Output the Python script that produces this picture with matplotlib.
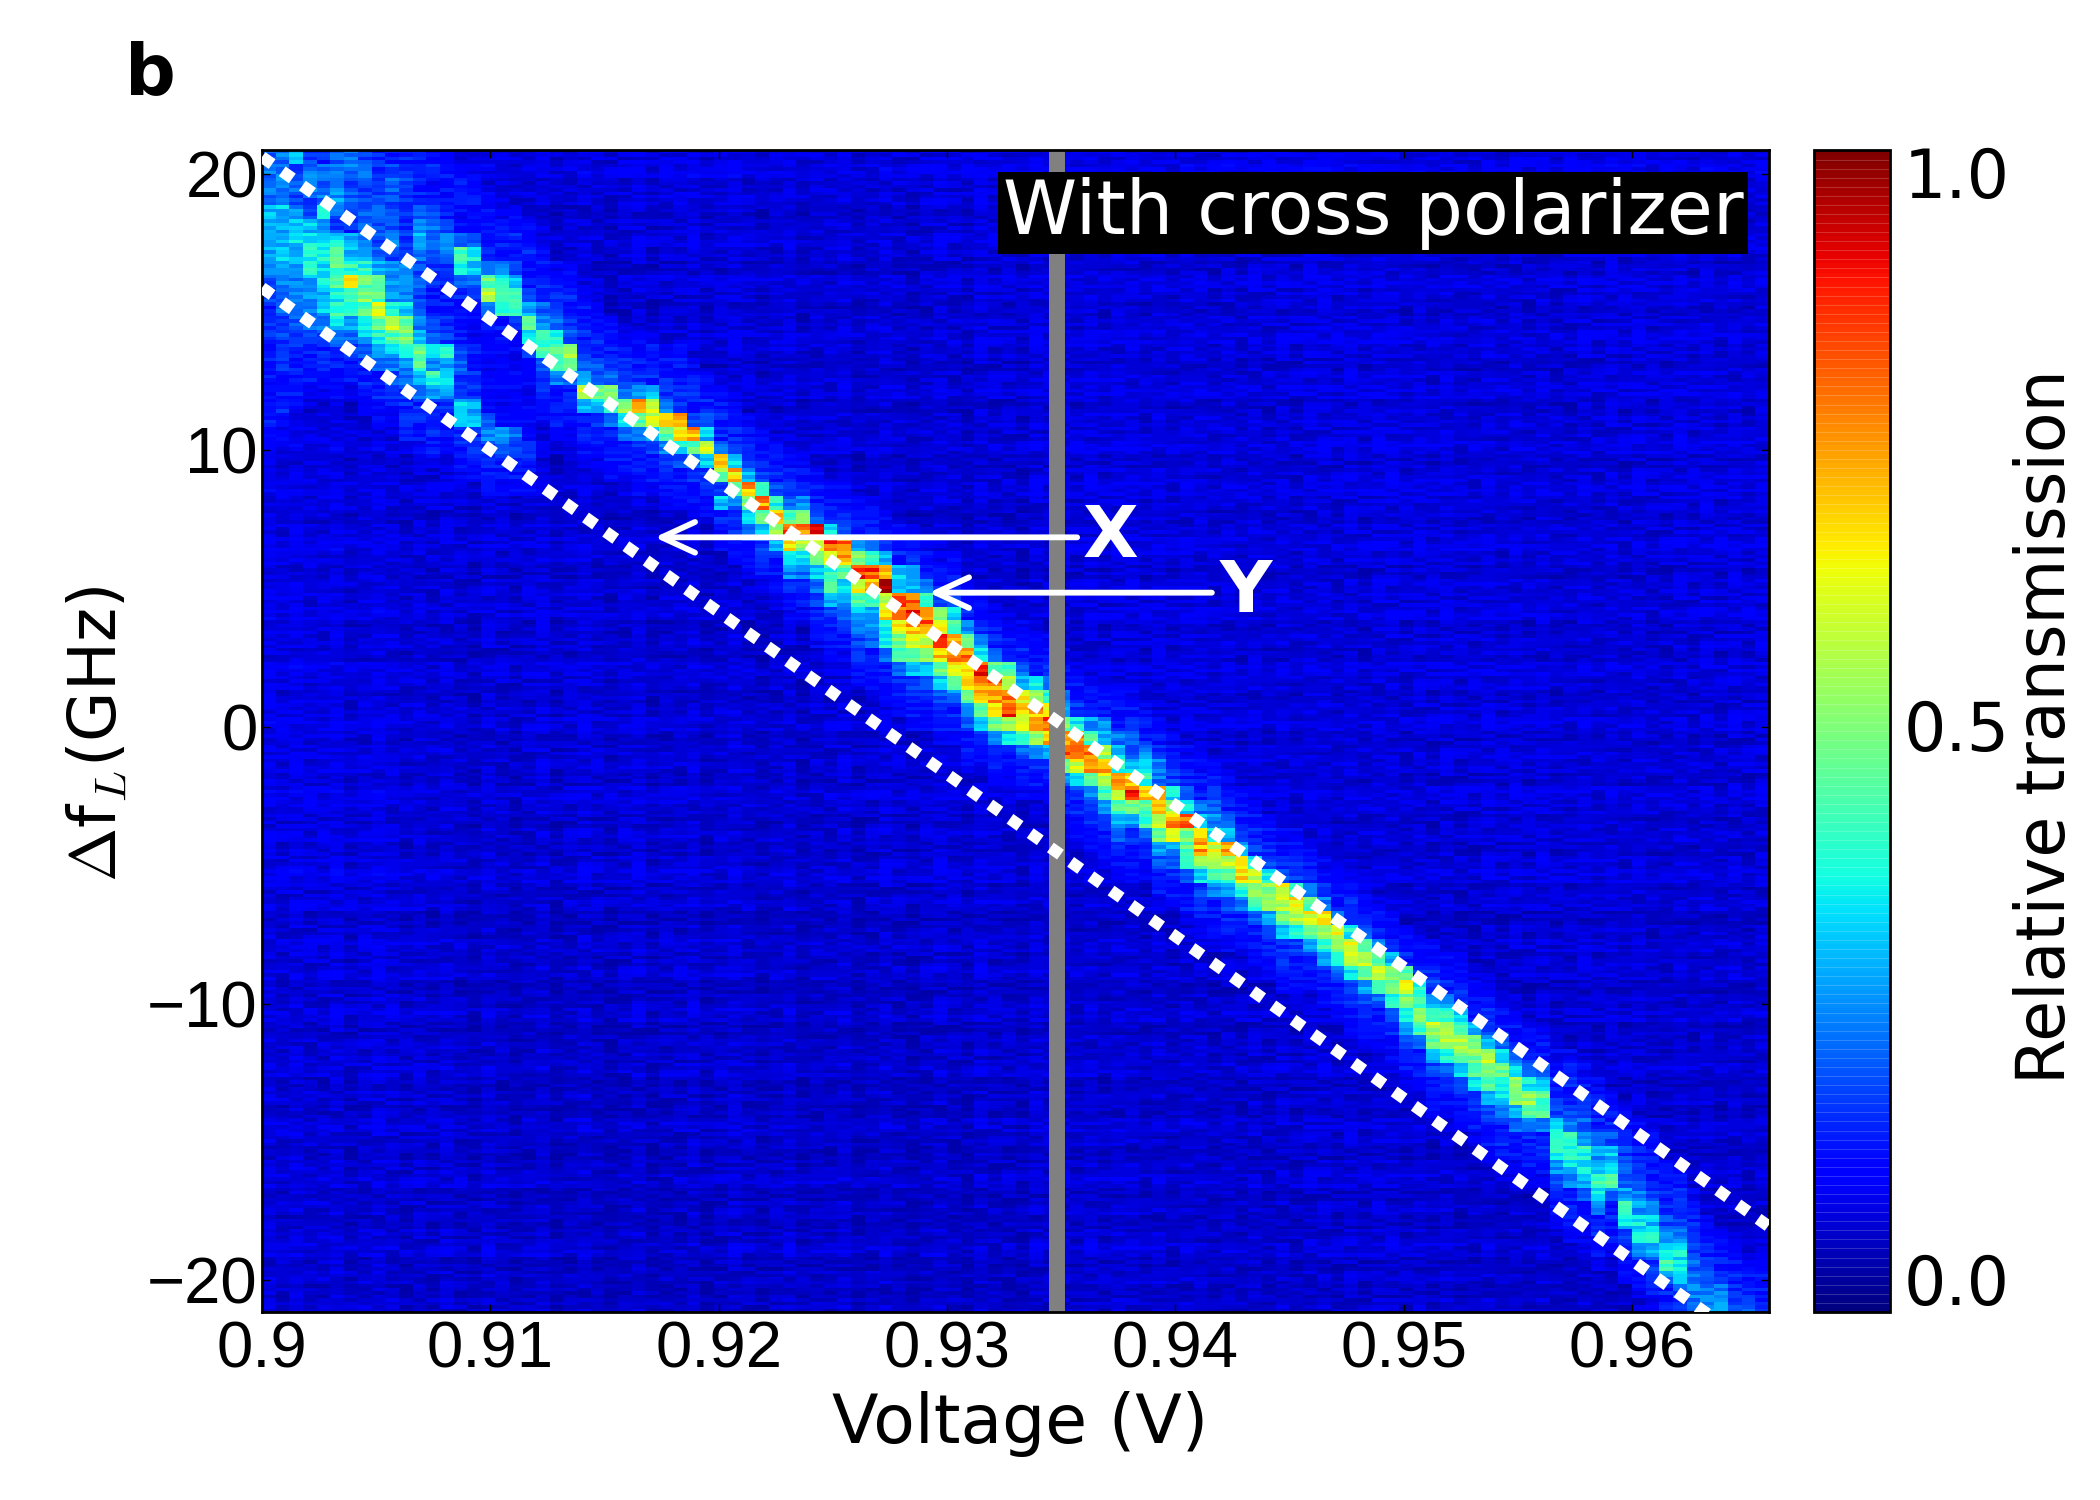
import matplotlib
matplotlib.use("Agg")
import matplotlib.pyplot as plt
import numpy as np

plt.rcParams["mathtext.fontset"] = "cm"

# Scan grid: 110 voltage steps, 84 detuning steps (top row first), each detuning step holds 4 sweeps
VOLT_MIN, VOLT_MAX = 0.9, 0.966
FREQ_TOP, FREQ_BOTTOM = 20.85, -21.15
N_COLS, N_ROWS, SWEEPS = 110, 84, 4

# Dark-level transmission, percent, per detuning row and per voltage column
row_level = [6, 7, 5, 6, 4, 5, 6, 5, 4, 6, 5, 4, 5, 6, 5, 4, 5, 6, 4, 5, 5, 6, 4, 5, 6, 5, 4, 5, 6, 5,
             4, 5, 5, 6, 4, 5, 4, 6, 5, 4, 5, 6, 4, 5, 5, 4, 6, 5, 4, 5, 4, 5, 6, 4, 5, 3, 4, 5, 4, 5,
             3, 4, 5, 3, 4, 4, 5, 3, 4, 3, 5, 4, 3, 4, 5, 3, 4, 3, 4, 5, 3, 4, 3, 4]
col_offset = [2, 1, 2, 1, 1, 2, 0, 1, 2, 1, 0, 1, 0, 1, 0, -1, 1, 0, -1, 0, 1, -1, 0, 1, 0, -1, 0, 1, -1, 0,
              0, 1, -1, 0, 1, 0, -1, 0, 1, -1, 0, 0, 1, -1, 0, 1, 0, -1, 0, 1, 0, -1, 1, 0, 0, -1, 1, 0, 1, 0,
              1, 0, 1, 1, 0, 1, 0, 1, 1, 0, 1, 0, 1, 0, 1, 0, 1, 1, 0, 1, 0, 1, 1, 0, 1, 0, 1, 0, 0, 1,
              0, 1, 0, 1, 0, 0, 1, 0, 1, 0, 1, 0, 0, 1, 0, 1, 0, 1, 0, 1]

# Sweep-to-sweep scatter of the detector, percent
sweep_scatter = [
    [1, -2, 3, 0, -1, 2, -3, 1, 0, 3, -2, -1, 2, 0, -3, 1, 2],
    [-2, 1, -1, 3, 0, -3, 2, 0, -2, 1, 3, -1, 0, -2, 2, 3, -1],
    [3, 0, -3, 1, 2, -1, 0, -2, 3, -1, 0, 2, -3, 1, -1, 0, 2],
    [0, -1, 2, -2, 3, 1, -1, 3, 1, -3, 2, 0, 1, 3, -2, -1, -3],
    [-3, 2, 0, 1, -2, 0, 3, -1, -2, 2, -1, 3, -1, 0, 1, 2, 0],
    [2, 3, -1, -3, 0, 2, 1, -2, 0, 1, -3, 0, 3, -1, 2, -2, 1],
    [-1, 0, 1, 2, -3, 3, -2, 0, 2, -1, 1, -2, 0, 3, 0, 1, -3],
    [1, -3, 2, 0, 1, -1, 0, 3, -3, 0, 2, 1, -2, -1, 3, 0, 2],
    [0, 2, -2, 3, -1, 1, -3, 1, 2, -2, 0, 3, 1, 0, -1, -3, 1],
    [3, -1, 0, -2, 2, 0, 1, -3, 0, 3, -1, -2, 2, 1, -2, 3, -1],
    [-2, 1, 3, 0, -1, -3, 2, 0, 1, -1, 3, 0, -3, 2, 0, 1, -2],
    [1, 0, -3, 2, 1, 3, -1, 2, -2, 0, -3, 1, 3, -2, 1, -1, 0],
    [-1, 3, 1, -2, 0, -2, 0, -1, 3, 2, 1, -3, 0, 2, -1, -2, 3],
]

# Transmission band, percent: first detuning row of each voltage column and the cells from there on
band_start = [0, 0, 0, 0, 0, 0, 0, 0, 0, 0, 0, 0, 2, 3, 4, 4, 6, 7, 7, 8,
              10, 11, 11, 13, 14, 15, 16, 16, 16, 17, 17, 18, 19, 20, 21, 22, 23, 24, 25, 25,
              26, 27, 27, 28, 28, 29, 30, 30, 31, 32, 32, 34, 35, 36, 37, 37, 38, 38, 39, 40,
              41, 41, 42, 42, 43, 44, 45, 46, 47, 47, 48, 49, 50, 51, 52, 52, 53, 54, 55, 55,
              56, 57, 58, 59, 60, 60, 61, 61, 63, 63, 64, 65, 66, 66, 68, 68, 69, 70, 71, 72,
              73, 74, 76, 76, 78, 80, 81, 82, 83, 83]
band_cells = [
    [20, 22, 24, 22, 30, 26, 28, 28, 26, 18, 16, 14, 14, 14, 12, 12, 11, 11, 10],
    [22, 22, 24, 22, 30, 28, 30, 30, 26, 24, 20, 20, 16, 16, 16, 14, 12, 11],
    [28, 18, 20, 18, 24, 32, 32, 30, 28, 24, 22, 22, 20, 16, 14, 12],
    [16, 22, 22, 18, 18, 30, 34, 38, 40, 28, 26, 24, 20, 16, 13],
    [14, 20, 20, 22, 34, 22, 36, 36, 34, 34, 30, 30, 24, 18, 14],
    [20, 22, 22, 26, 20, 16, 34, 42, 44, 46, 36, 40, 34, 22, 16],
    [22, 22, 16, 20, 16, 14, 26, 30, 40, 62, 38, 42, 26, 22, 16],
    [16, 20, 16, 16, 20, 20, 22, 26, 38, 46, 50, 44, 32, 30, 20, 14],
    [14, 15, 14, 16, 18, 18, 18, 20, 28, 44, 44, 58, 48, 38, 24, 18, 14],
    [12, 16, 20, 18, 18, 18, 22, 16, 24, 26, 26, 36, 56, 44, 30, 22, 18],
    [14, 14, 16, 14, 14, 14, 16, 14, 22, 22, 24, 32, 46, 50, 36, 24, 20, 16, 14],
    [12, 12, 12, 14, 18, 24, 28, 22, 18, 20, 16, 16, 22, 28, 48, 44, 28, 20, 14],
    [9, 12, 16, 22, 20, 18, 14, 14, 12, 12, 16, 18, 30, 24, 40, 26, 14, 12],
    [10, 12, 16, 24, 22, 16, 12, 12, 12, 14, 16, 38, 26, 30, 26, 14],
    [10, 12, 18, 42, 36, 18, 14, 10, 10, 12, 16, 20, 16, 14, 30, 28, 14],
    [9, 10, 18, 38, 30, 20, 14, 10, 9, 9, 12, 10, 14, 14, 28, 30, 14],
    [10, 12, 22, 46, 60, 20, 12, 9, 9, 9, 9, 9, 9, 18, 24, 16],
    [12, 24, 36, 42, 38, 14, 10, 9, 9, 9, 9, 9, 9, 26, 20],
    [12, 16, 30, 44, 40, 14, 9, 9, 9, 9, 9, 9, 9, 22, 16],
    [10, 14, 16, 28, 48, 34, 14, 9, 9, 9, 9, 9, 9, 14],
    [13, 20, 26, 40, 42, 20, 14],
    [18, 20, 36, 48, 40, 24, 12],
    [12, 14, 18, 52, 48, 22, 14],
    [14, 14, 18, 30, 58, 28, 14],
    [14, 18, 20, 46, 30, 14],
    [16, 20, 52, 40, 20, 12],
    [16, 22, 50, 36, 20],
    [16, 24, 74, 46, 24, 14],
    [14, 30, 62, 60, 28, 16],
    [16, 22, 76, 46, 24, 14],
    [14, 16, 70, 68, 36, 18],
    [12, 18, 74, 44, 22, 14],
    [16, 30, 64, 30, 16],
    [14, 20, 66, 50, 16, 30],
    [14, 34, 70, 40, 22, 16],
    [14, 28, 74, 50, 30, 18],
    [16, 40, 76, 44, 32, 16],
    [18, 38, 70, 50, 28],
    [20, 44, 84, 66, 34, 24],
    [24, 46, 78, 54, 34, 22],
    [20, 88, 56, 44, 30, 22, 16],
    [34, 86, 60, 38, 40, 28, 16],
    [18, 78, 72, 44, 34, 26, 18],
    [26, 48, 84, 60, 44, 30, 22, 16],
    [20, 38, 86, 70, 40, 26, 24, 20],
    [28, 70, 96, 58, 68, 34, 34, 20],
    [30, 28, 84, 78, 62, 50, 40, 20],
    [26, 28, 84, 84, 72, 60, 42, 30, 16],
    [22, 38, 76, 80, 60, 48, 30, 18],
    [18, 50, 60, 88, 68, 50, 30, 18],
    [16, 34, 42, 76, 76, 62, 46, 24],
    [26, 46, 80, 70, 68, 44, 24, 18],
    [24, 36, 88, 78, 72, 46, 30],
    [22, 44, 78, 78, 64, 48, 26],
    [40, 60, 76, 84, 56, 34],
    [20, 30, 62, 66, 64, 40, 20],
    [34, 56, 74, 76, 50, 26],
    [22, 40, 66, 82, 70, 30],
    [20, 26, 50, 76, 80, 50, 24],
    [16, 36, 74, 82, 62, 34, 16],
    [26, 44, 82, 72, 44, 24, 16],
    [24, 30, 54, 76, 60, 42, 24, 16],
    [22, 30, 40, 76, 66, 44, 30, 18],
    [18, 20, 30, 72, 84, 50, 26, 16],
    [24, 30, 40, 72, 44, 40, 20],
    [24, 22, 70, 66, 62, 46, 28, 18],
    [16, 34, 54, 74, 58, 26, 20],
    [18, 34, 78, 50, 44, 36, 16],
    [22, 30, 66, 74, 50, 32, 16],
    [20, 24, 34, 62, 54, 40, 22],
    [18, 28, 72, 58, 44, 26, 16],
    [14, 28, 60, 68, 40, 22],
    [16, 36, 58, 48, 40, 18],
    [16, 36, 52, 50, 26, 14],
    [18, 60, 56, 48, 30, 14],
    [16, 40, 64, 54, 36, 16],
    [22, 44, 64, 44, 26],
    [22, 66, 50, 40, 26],
    [26, 60, 50, 36, 20],
    [14, 36, 64, 56, 34, 16],
    [18, 44, 56, 50, 26, 16],
    [26, 44, 56, 42, 20],
    [30, 52, 48, 36, 18],
    [46, 62, 50, 38, 26, 16],
    [36, 44, 50, 42, 22],
    [16, 26, 42, 56, 48, 28, 18],
    [24, 38, 58, 54, 36, 22],
    [16, 30, 44, 54, 48, 30, 18],
    [28, 50, 50, 42, 32, 16],
    [16, 30, 56, 52, 42, 30, 16],
    [18, 32, 48, 38, 32, 24, 14],
    [22, 32, 50, 50, 30, 20],
    [24, 36, 54, 42, 22, 14],
    [18, 32, 44, 44, 24, 12],
    [14, 18, 32, 44, 38, 26, 16],
    [14, 16, 24, 38, 40, 32, 24, 14],
    [14, 20, 26, 38, 34, 30, 18],
    [13, 18, 26, 32, 40, 36, 22, 14],
    [18, 30, 30, 42, 22, 12],
    [16, 18, 20, 26, 38, 32, 18],
    [14, 16, 22, 26, 34, 34, 22],
    [12, 16, 24, 30, 36, 30, 16],
    [14, 18, 24, 32, 40, 24],
    [12, 16, 24, 36, 34, 32, 18],
    [12, 16, 20, 22, 24, 20],
    [14, 16, 22, 26],
    [14, 22, 24],
    [14, 18],
    [18],
    [12],
]
# Faint skirt on either side of the band, percent, nearest row first
band_skirt = [13, 11, 9]

# Guide lines through the scan, GHz at the two ends of the voltage range
guide_volts = [0.9, 0.966]
guide_upper = [20.6, -18.06]
guide_lower = [15.87, -22.8]

# Reference voltage and the two labelled arrows: tail volts, tip volts, detuning
marker_voltage = 0.9348
arrow_x = (0.9357, 0.9172, 6.85)
arrow_y = (0.9416, 0.9292, 4.85)

x_ticks = [0.9, 0.91, 0.92, 0.93, 0.94, 0.95, 0.96]
x_tick_labels = ["0.9", "0.91", "0.92", "0.93", "0.94", "0.95", "0.96"]
y_ticks = [20, 10, 0, -10, -20]
y_tick_labels = ["20", "10", "0", "\u221210", "\u221220"]
cbar_ticks = [0.0, 0.5, 1.0]
cbar_tick_labels = ["0.0", "0.5", "1.0"]

# Assemble the transmission map
level = np.add.outer(np.array(row_level, float), np.array(col_offset, float))
for col, (start, cells) in enumerate(zip(band_start, band_cells)):
    stop = start + len(cells) - 1
    for k, value in enumerate(band_skirt):
        for row in (start - 1 - k, stop + 1 + k):
            if 0 <= row < N_ROWS:
                level[row, col] = max(level[row, col], value)
    for k, value in enumerate(cells):
        if start + k < N_ROWS:
            level[start + k, col] = max(level[start + k, col], value)

scatter = np.array(sweep_scatter, float)
fine = np.repeat(level, SWEEPS, axis=0)
for row in range(fine.shape[0]):
    for col in range(N_COLS):
        cell = scatter[(row + 3 * col) % scatter.shape[0], (col + 5 * row) % scatter.shape[1]]
        fine[row, col] += cell * (0.8 + fine[row, col] / 38.0)
transmission = np.clip(fine, 1, 100) / 100.0

volt_edges = np.linspace(VOLT_MIN, VOLT_MAX, N_COLS + 1)
freq_edges = np.linspace(FREQ_TOP, FREQ_BOTTOM, N_ROWS * SWEEPS + 1)

W, H = 2100, 1500
fig = plt.figure(figsize=(21, 15), dpi=100, facecolor="white")
ax = fig.add_axes([262 / W, 1 - 1312 / H, 1507 / W, 1162 / H])
mesh = ax.pcolormesh(volt_edges, freq_edges, transmission, cmap="jet",
                     vmin=-0.03, vmax=1.02, shading="flat", linewidth=0, rasterized=True)
ax.set_xlim(VOLT_MIN, VOLT_MAX)
ax.set_ylim(FREQ_BOTTOM, FREQ_TOP)

ax.axvline(marker_voltage, color="#808080", lw=11.5, zorder=2)

dots = (0, (1.05, 1.05))
for guide in (guide_upper, guide_lower):
    ax.plot(guide_volts, guide, color="white", lw=8.5, linestyle=dots,
            dash_capstyle="butt", zorder=3)

for tail, tip, freq in (arrow_x, arrow_y):
    ax.annotate("", xy=(tip, freq), xytext=(tail, freq), zorder=4,
                arrowprops=dict(arrowstyle="->,head_length=1.0,head_width=0.46",
                                mutation_scale=24, color="white", lw=4.2,
                                shrinkA=0, shrinkB=0, capstyle="round"))

bold = dict(color="white", fontweight="bold", fontsize=52, family="DejaVu Sans",
            ha="center", va="center", zorder=5)
ax.text(0.93717, 6.85, "X", **bold)
ax.text(0.9431, 4.85, "Y", **bold)

ax.text(0.94866, 18.56, "With cross polarizer", color="white", fontsize=54,
        family="DejaVu Sans", ha="center", va="center", zorder=6,
        bbox=dict(facecolor="black", edgecolor="none",
                  boxstyle="square,pad=0.06"))

ax.set_xticks(x_ticks, x_tick_labels, family="Liberation Sans", fontsize=47)
ax.set_yticks(y_ticks, y_tick_labels, family="Liberation Sans", fontsize=47)
ax.tick_params(axis="both", direction="in", length=6, width=1, top=True, right=True, color="black")
ax.tick_params(axis="x", pad=6)
ax.tick_params(axis="y", pad=3)
for spine in ax.spines.values():
    spine.set_linewidth(2)

cax = fig.add_axes([1814 / W, 1 - 1312 / H, 76 / W, 1162 / H])
cbar = fig.colorbar(mesh, cax=cax, ticks=cbar_ticks)
cbar.ax.set_yticklabels(cbar_tick_labels, family="DejaVu Sans", fontsize=48)
cbar.ax.tick_params(length=0, pad=10)
cbar.outline.set_linewidth(2)
cbar.ax.hlines(np.arange(-0.03, 1.02, 0.0082), -0.03, 1, transform=cbar.ax.get_yaxis_transform(),
               color="white", lw=0.6, alpha=0.22)

fig.text(1020 / W, 1 - 1424 / H, "Voltage (V)", fontsize=49, family="DejaVu Sans",
         ha="center", va="center")
fig.text(98 / W, 1 - 734 / H, r"$\Delta$f$_{L}$(GHz)", fontsize=47, family="DejaVu Sans",
         rotation=90, ha="center", va="center")
fig.text(2046 / W, 1 - 727 / H, "Relative transmission", fontsize=48, family="DejaVu Sans",
         rotation=90, ha="center", va="center")
fig.text(150 / W, 1 - 75 / H, "b", fontsize=51, fontweight="bold", family="DejaVu Sans",
         ha="center", va="center")

fig.savefig("out.png", dpi=100)
